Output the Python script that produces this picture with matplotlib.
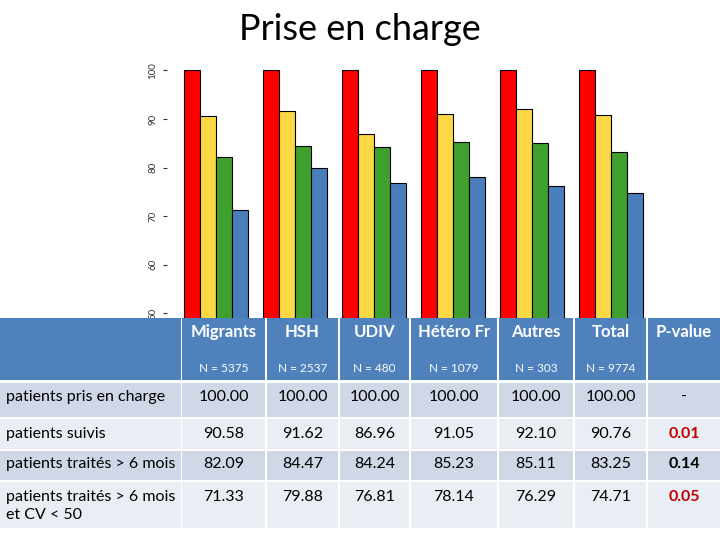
import numpy as np
import matplotlib.pyplot as plt
from matplotlib.patches import Rectangle

plt.rcParams['font.family'] = ['Lato', 'DejaVu Sans']

groups = ['Migrants', 'HSH', 'UDIV', 'Hétéro Fr', 'Autres', 'Total']
effectifs = ['N = 5375', 'N = 2537', 'N = 480', 'N = 1079', 'N = 303', 'N = 9774']
pris_en_charge = [100.00, 100.00, 100.00, 100.00, 100.00, 100.00]
suivis = [90.58, 91.62, 86.96, 91.05, 92.10, 90.76]
traites_6m = [82.09, 84.47, 84.24, 85.23, 85.11, 83.25]
traites_cv50 = [71.33, 79.88, 76.81, 78.14, 76.29, 74.71]
row_labels = ['patients pris en charge', 'patients suivis',
              'patients traités > 6 mois', 'patients traités > 6 mois\net CV < 50']
p_values = ['-', '0.01', '0.14', '0.05']
p_colors = ['black', '#C00000', 'black', '#C00000']
yticks = [50, 60, 70, 80, 90, 100]

series = [pris_en_charge, suivis, traites_6m, traites_cv50]
colors = ['#FF0000', '#FDD845', '#40A02E', '#4A7EBB']

W, H = 720, 540
fig = plt.figure(figsize=(7.2, 5.4), dpi=100)

# bar chart
ax = fig.add_axes([167 / W, 1 - 318 / H, (660 - 167) / W, 250 / H])
x = np.arange(len(groups))
w = 0.2
for i, (vals, c) in enumerate(zip(series, colors)):
    ax.bar(x + (i - 1.5) * w, vals, w, bottom=0, color=c, edgecolor='black', linewidth=0.8)
ax.set_ylim(49, 100.5)
ax.set_xlim(-(216 - 167) / 79, (660 - 216) / 79)
ax.set_yticks(yticks)
ax.set_yticklabels([str(t) for t in yticks], rotation=90, va='center', fontsize=7, color='#333333')
ax.tick_params(axis='y', length=3, pad=4, color='#333333')
ax.set_xticks([])
for s in ax.spines.values():
    s.set_visible(False)

fig.text(0.5, 1 - 30 / H, 'Prise en charge', ha='center', va='center', fontsize=26)

# table
tb = fig.add_axes([0, 0, 1, 1 - 318 / H + 0.0001])
tb.set_xlim(0, W)
tb.set_ylim(540, 318)
tb.axis('off')

col_edges = [(0, 181), (182, 265), (267, 338), (340, 409), (411, 497), (499, 573), (575, 646), (648, 720)]
row_edges = [(318, 380), (383, 417), (419, 449), (451, 480), (482, 528)]
row_text_y = [397, 434, 464, 497]
label_y = [397, 434, 464, 506]
row_fill = ['#D0D8E8', '#E9EDF4', '#D0D8E8', '#E9EDF4']
header_fill = '#4F81BD'

for (x0, x1) in col_edges:
    y0, y1 = row_edges[0]
    tb.add_patch(Rectangle((x0, y0), x1 - x0, y1 - y0, facecolor=header_fill, edgecolor='none'))
    for r in range(4):
        y0, y1 = row_edges[r + 1]
        tb.add_patch(Rectangle((x0, y0), x1 - x0, y1 - y0, facecolor=row_fill[r], edgecolor='none'))

headers = groups + ['P-value']
for j, name in enumerate(headers):
    cx = sum(col_edges[j + 1]) / 2
    tb.text(cx, 332, name, ha='center', va='center', fontsize=12, fontweight='bold', color='white')
    if j < len(effectifs):
        tb.text(cx, 369, effectifs[j], ha='center', va='center', fontsize=8.5, color='white')

for r in range(4):
    tb.text(6, label_y[r], row_labels[r], ha='left', va='center', fontsize=11.5, linespacing=1.3)
    for j, v in enumerate(series[r]):
        cx = sum(col_edges[j + 1]) / 2
        tb.text(cx, row_text_y[r], '%.2f' % v, ha='center', va='center', fontsize=11.5)
    cx = sum(col_edges[7]) / 2
    tb.text(cx, row_text_y[r], p_values[r], ha='center', va='center', fontsize=11.5,
            fontweight='bold' if p_values[r] != '-' else 'normal', color=p_colors[r])

fig.savefig('out.png', dpi=100)
